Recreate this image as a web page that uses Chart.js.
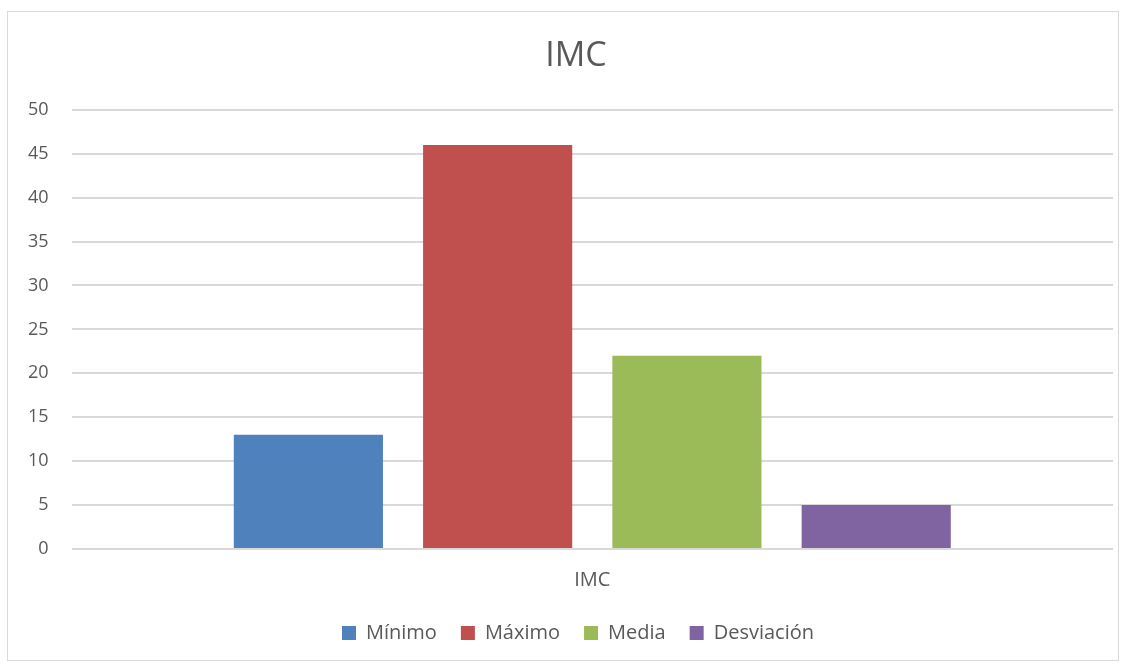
<!DOCTYPE html>
<html>
<head>
<meta charset="utf-8">
<script src="https://cdn.jsdelivr.net/npm/chart.js@4/dist/chart.umd.min.js"></script>
<style>
  body { margin: 0; background: #fff; }
  #frame { position: absolute; left: 7px; top: 11px; width: 1110px; height: 648px; border: 1px solid #d9d9d9; }
  #frame canvas { display: block; }
</style>
</head>
<body>
<div id="frame"><canvas id="myChart" width="1110" height="648"></canvas></div>
<script>
const labels = ['IMC'];
const seriesNames = ['Mínimo', 'Máximo', 'Media', 'Desviación'];
const values = [13, 46, 22, 5];
const colors = ['#4f81bd', '#c0504d', '#9bbb59', '#8064a2'];
const yTicks = [0, 5, 10, 15, 20, 25, 30, 35, 40, 45, 50];

const textColor = '#595959';
const fontFamily = "'Open Sans', 'Liberation Sans', sans-serif";

const data = {
    labels: labels,
    datasets: seriesNames.map((name, i) => ({
        label: name,
        data: [values[i]],
        backgroundColor: colors[i],
        borderWidth: 0,
        categoryPercentage: 0.727,
        barPercentage: 0.788
    }))
};

// nudge title and legend to where Excel put them
const nudge = {
    id: 'nudge',
    afterLayout(chart) {
        if (chart.titleBlock) chart.titleBlock.left += 34;
        if (chart.legend) {
            chart.legend.left += 38;
            chart.legend.top -= 12;
            chart.legend.bottom -= 12;
        }
    }
};

const config = {
    type: 'bar',
    data: data,
    plugins: [nudge],
    options: {
        responsive: false,
        animation: false,
        layout: { padding: { left: -3, right: 5, top: 14, bottom: -5 } },
        plugins: {
            title: {
                display: true,
                text: 'IMC',
                color: textColor,
                font: { family: fontFamily, size: 34, weight: 'normal' },
                padding: { top: 10, bottom: 33 }
            },
            legend: {
                position: 'bottom',
                labels: {
                    color: textColor,
                    font: { family: fontFamily, size: 20 },
                    boxWidth: 14,
                    boxHeight: 14,
                    padding: 24
                }
            },
            tooltip: { enabled: false }
        },
        scales: {
            x: {
                grid: { display: false, drawTicks: false },
                border: { display: false },
                ticks: { color: textColor, font: { family: fontFamily, size: 20 }, padding: 19 }
            },
            y: {
                min: 0,
                max: 50,
                afterBuildTicks: (axis) => { axis.ticks = yTicks.map(v => ({ value: v })); },
                grid: { color: '#d9d9d9', lineWidth: 2, drawTicks: false },
                border: { display: false },
                ticks: { color: textColor, font: { family: fontFamily, size: 18 }, padding: 23 }
            }
        }
    }
};

new Chart(document.getElementById('myChart'), config);
</script>
</body>
</html>
